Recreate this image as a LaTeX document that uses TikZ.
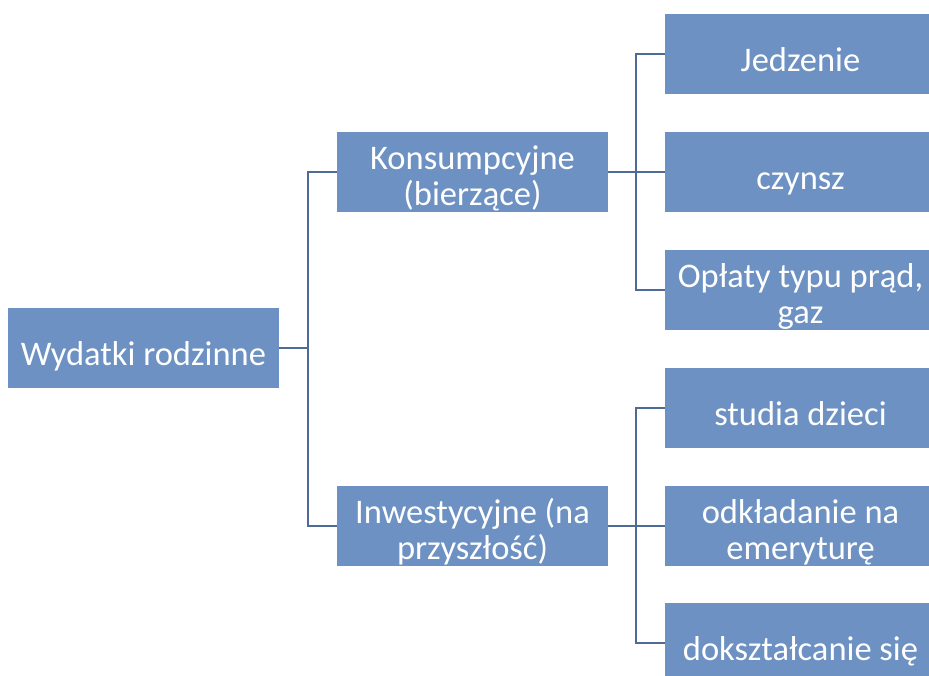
\documentclass[tikz,border=0pt]{standalone}
\usepackage{fontspec}
\setmainfont{Carlito}
\usetikzlibrary{calc}
\definecolor{boxfill}{HTML}{6C91C2}
\definecolor{linkcol}{HTML}{4E6A96}
\begin{document}
\begin{tikzpicture}[x=1pt,y=-1pt,
  box/.style={rectangle, fill=boxfill, minimum width=271pt, minimum height=80pt, inner sep=0pt, draw=none},
  lbl/.style={text=white, font=\fontsize{34.5}{36}\selectfont, align=center, inner sep=0pt, anchor=base},
  link/.style={draw=linkcol, line width=2.2pt}]
  \useasboundingbox (0,0) rectangle (929,675);
  \clip (0,0) rectangle (929,675);
  \fill[white] (0,0) rectangle (929,675);

  % boxes
  \node[box] (root) at (143.5,348) {};
  \node[box] (kons) at (472.5,172) {};
  \node[box] (inw)  at (472.5,526) {};
  \node[box] (jed)  at (800.5,54) {};
  \node[box] (czy)  at (800.5,172) {};
  \node[box] (opl)  at (800.5,290) {};
  \node[box] (stu)  at (800.5,408) {};
  \node[box] (odk)  at (800.5,526) {};
  \node[box] (dok)  at (800.5,643) {};

  % labels: a node's base is its last line, set 17 (one line) or 33 (two lines) below the centre
  \node[lbl] (root-t) at ($(root.center)+(0,17)$) {Wydatki rodzinne};
  \node[lbl] (kons-t) at ($(kons.center)+(0,33)$) {Konsumpcyjne\\(bierzące)};
  \node[lbl] (inw-t)  at ($(inw.center)+(0,33)$) {Inwestycyjne (na\\przyszłość)};
  \node[lbl] (jed-t)  at ($(jed.center)+(0,17)$) {Jedzenie};
  \node[lbl] (czy-t)  at ($(czy.center)+(0,17)$) {czynsz};
  \node[lbl] (opl-t)  at ($(opl.center)+(0,33)$) {Opłaty typu prąd,\\gaz};
  \node[lbl] (stu-t)  at ($(stu.center)+(0,17)$) {studia dzieci};
  \node[lbl] (odk-t)  at ($(odk.center)+(0,33)$) {odkładanie na\\emeryturę};
  \node[lbl] (dok-t)  at ($(dok.center)+(0,17)$) {dokształcanie się};

  % connectors
  \foreach \c in {kons,inw}
    \draw[link] (root.east) -| ([xshift=-29pt]\c.west) -- (\c.west);
  \foreach \c in {jed,czy,opl}
    \draw[link] (kons.east) -| ([xshift=-29pt]\c.west) -- (\c.west);
  \foreach \c in {stu,odk,dok}
    \draw[link] (inw.east) -| ([xshift=-29pt]\c.west) -- (\c.west);
\end{tikzpicture}
\end{document}
